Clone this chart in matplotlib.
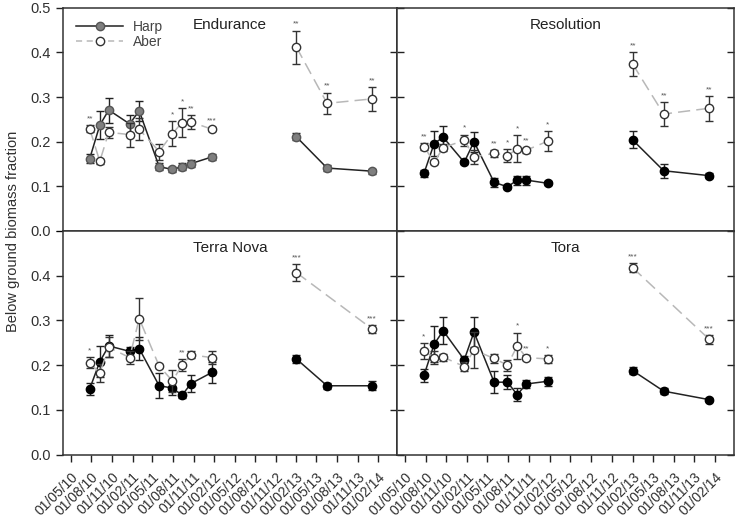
import matplotlib
matplotlib.use("Agg")
import matplotlib.pyplot as plt
from matplotlib.lines import Line2D
from matplotlib.ticker import FormatStrFormatter
import numpy as np
import pandas as pd

plt.rcParams['font.family'] = ['Liberation Sans', 'DejaVu Sans']

# sampling dates
dates = ['2010-07-25', '2010-09-08', '2010-10-18', '2011-01-19', '2011-03-03',
         '2011-05-31', '2011-07-29', '2011-09-10', '2011-10-20', '2012-01-22',
         '2013-02-01', '2013-06-18', '2014-01-05']
nan = np.nan

panels = ['Endurance', 'Resolution', 'Terra Nova', 'Tora']

endurance_harp = [0.162, 0.237, 0.271, 0.240, 0.269, 0.144, 0.138, 0.144, 0.151, 0.166, 0.211, 0.141, 0.134]
endurance_harp_se = [0.010, 0.032, 0.028, 0.020, 0.022, 0.008, 0.005, 0.008, 0.008, 0.006, 0.008, 0.006, 0.006]
endurance_aber = [0.229, 0.156, 0.221, 0.216, 0.228, 0.178, 0.218, 0.243, 0.244, 0.228, 0.412, 0.286, 0.296]
endurance_aber_se = [0.008, 0.005, 0.012, 0.027, 0.025, 0.018, 0.028, 0.032, 0.016, 0.005, 0.037, 0.024, 0.027]
endurance_sig = ['**', '', '', '', '', '', '*', '*', '**', '***', '**', '**', '**']

resolution_harp = [0.129, 0.196, 0.210, 0.154, 0.200, 0.109, 0.099, 0.114, 0.114, 0.107, 0.204, 0.135, 0.124]
resolution_harp_se = [0.008, 0.028, 0.025, 0.005, 0.022, 0.010, 0.005, 0.010, 0.010, 0.005, 0.019, 0.016, 0.005]
resolution_aber = [0.189, 0.154, 0.187, 0.203, 0.166, 0.174, 0.169, 0.184, 0.181, 0.201, 0.374, 0.262, 0.275]
resolution_aber_se = [0.008, 0.005, 0.008, 0.013, 0.015, 0.008, 0.015, 0.030, 0.006, 0.022, 0.026, 0.026, 0.028]
resolution_sig = ['**', '', '', '*', '', '**', '*', '*', '**', '*', '**', '**', '**']

terranova_harp = [0.147, 0.208, 0.243, 0.231, 0.237, 0.154, 0.149, 0.133, 0.159, 0.184, 0.214, 0.154, 0.154]
terranova_harp_se = [0.014, 0.034, 0.025, 0.010, 0.025, 0.028, 0.016, 0.006, 0.018, 0.024, 0.008, 0.007, 0.010]
terranova_aber = [0.206, 0.182, 0.240, 0.217, 0.304, 0.198, 0.165, 0.200, 0.223, 0.217, 0.407, nan, 0.281]
terranova_aber_se = [0.012, 0.020, 0.022, 0.015, 0.047, 0.005, 0.024, 0.013, 0.008, 0.014, 0.019, nan, 0.008]
terranova_sig = ['*', '', '', '', '', '', '', '**', '', '', '***', '', '***']

tora_harp = [0.177, 0.247, 0.277, 0.212, 0.274, 0.162, 0.162, 0.134, 0.158, 0.164, 0.188, 0.142, 0.123]
tora_harp_se = [0.014, 0.040, 0.030, 0.008, 0.033, 0.024, 0.015, 0.014, 0.010, 0.010, 0.008, 0.006, 0.004]
tora_aber = [0.232, 0.217, 0.218, 0.197, 0.234, 0.215, 0.200, 0.243, 0.217, 0.214, 0.418, nan, 0.258]
tora_aber_se = [0.018, 0.015, 0.008, 0.010, 0.041, 0.010, 0.012, 0.030, 0.005, 0.008, 0.010, nan, 0.010]
tora_sig = ['*', '', '', '', '', '', '', '*', '**', '*', '***', '', '***']

harp_means = [endurance_harp, resolution_harp, terranova_harp, tora_harp]
harp_errs = [endurance_harp_se, resolution_harp_se, terranova_harp_se, tora_harp_se]
aber_means = [endurance_aber, resolution_aber, terranova_aber, tora_aber]
aber_errs = [endurance_aber_se, resolution_aber_se, terranova_aber_se, tora_aber_se]
sigs = [endurance_sig, resolution_sig, terranova_sig, tora_sig]

x = pd.to_datetime(dates)
tick_dates = pd.date_range('2010-05-01', '2014-02-01', freq='3MS')
tick_labels = [d.strftime('%d/%m/%y') for d in tick_dates]
segments = [slice(0, 10), slice(10, 13)]

fig = plt.figure(figsize=(7.37, 5.22), dpi=100)
left, mid, right = 0.0855, 0.5387, 0.9963
bottom, hmid, top = 0.129, 0.5575, 0.985
boxes = [(left, hmid, mid - left, top - hmid), (mid, hmid, right - mid, top - hmid),
         (left, bottom, mid - left, hmid - bottom), (mid, bottom, right - mid, hmid - bottom)]

for i, name in enumerate(panels):
    ax = fig.add_axes(boxes[i])
    hm = np.array(harp_means[i], dtype=float)
    he = np.array(harp_errs[i], dtype=float)
    am = np.array(aber_means[i], dtype=float)
    ae = np.array(aber_errs[i], dtype=float)

    hface = '#7f7f7f' if i == 0 else 'black'
    hedge = '#555555' if i == 0 else 'black'
    for seg in segments:
        xs = x[seg]
        ax.errorbar(xs, hm[seg], yerr=he[seg], fmt='none', ecolor='#222222',
                    elinewidth=1, capsize=3, capthick=1, zorder=2)
        ax.plot(xs, hm[seg], '-', color='#222222', lw=1.1, marker='o', ms=6,
                mfc=hface, mec=hedge, zorder=3)
        ok = ~np.isnan(am[seg])
        ax.errorbar(xs[ok], am[seg][ok], yerr=ae[seg][ok], fmt='none', ecolor='#333333',
                    elinewidth=1, capsize=3, capthick=1, zorder=4)
        ax.plot(xs[ok], am[seg][ok], color='#b8b8b8', lw=1.1, ls=(0, (8, 4)), zorder=4)
        ax.plot(xs[ok], am[seg][ok], 'o', ms=6, mfc='white', mec='#333333', mew=1, zorder=5)

    # significance stars above the Aber error bars
    for j, s in enumerate(sigs[i]):
        if s:
            ax.annotate(s, (x[j], am[j] + ae[j]), xytext=(0, 2), textcoords='offset points',
                        ha='center', va='bottom', fontsize=6, color='#555555')

    ax.text(0.5, 0.922, name, transform=ax.transAxes, ha='center', va='center',
            fontsize=11, color='#222222')

    ax.set_ylim(0, 0.5)
    ax.set_xlim(pd.Timestamp('2010-03-28'), pd.Timestamp('2014-04-26'))
    ax.set_xticks(tick_dates)
    ax.set_yticks(np.arange(0, 0.51, 0.1))
    ax.tick_params(axis='both', colors='#222222', labelcolor='#303030', width=1)
    for sp in ax.spines.values():
        sp.set_color('#333333')
        sp.set_linewidth(1.1)

    if i % 2 == 0:
        ax.tick_params(axis='y', left=True, right=False, direction='out',
                       length=5, labelsize=10.5, pad=4)
        ax.yaxis.set_major_formatter(FormatStrFormatter('%.1f'))
        sec = ax.secondary_yaxis('right')
        sec.set_yticks(np.arange(0.1, 0.5, 0.1))
        sec.tick_params(direction='in', length=5, width=1, color='#222222', labelright=False)
        sec.spines['right'].set_color('#333333')
        sec.spines['right'].set_linewidth(1.1)
    else:
        ax.tick_params(axis='y', left=True, right=True, direction='in', length=5,
                       labelleft=False)
    if i < 2:
        ax.tick_params(axis='x', direction='out', length=5, labelbottom=False)
    else:
        ax.tick_params(axis='x', direction='out', length=5, pad=6)
        ax.set_xticklabels(tick_labels, rotation=45, ha='right', rotation_mode='anchor',
                           fontsize=10)
        if i == 2:
            ax.set_yticks(np.arange(0, 0.41, 0.1))
            ax.set_yticks([0.5], minor=True)
            ax.tick_params(axis='y', which='minor', length=5, direction='out')

    if i == 0:
        handles = [Line2D([], [], color='#222222', lw=1.1, marker='o', ms=6, mfc='#7f7f7f', mec='#555555'),
                   Line2D([], [], color='#b8b8b8', lw=1.1, ls=(0, (4, 3)), marker='o', ms=6,
                          mfc='white', mec='#333333')]
        ax.legend(handles, ['Harp', 'Aber'], loc='upper left', frameon=False, fontsize=10,
                  handlelength=3.4, borderaxespad=0.3, labelspacing=0.1, handletextpad=0.7,
                  labelcolor='#444444', bbox_to_anchor=(0.01, 0.99))

fig.text(0.018, 0.557, 'Below ground biomass fraction', rotation=90, ha='center', va='center',
         fontsize=10.5, color='#303030')

fig.savefig('out.png', dpi=100)
